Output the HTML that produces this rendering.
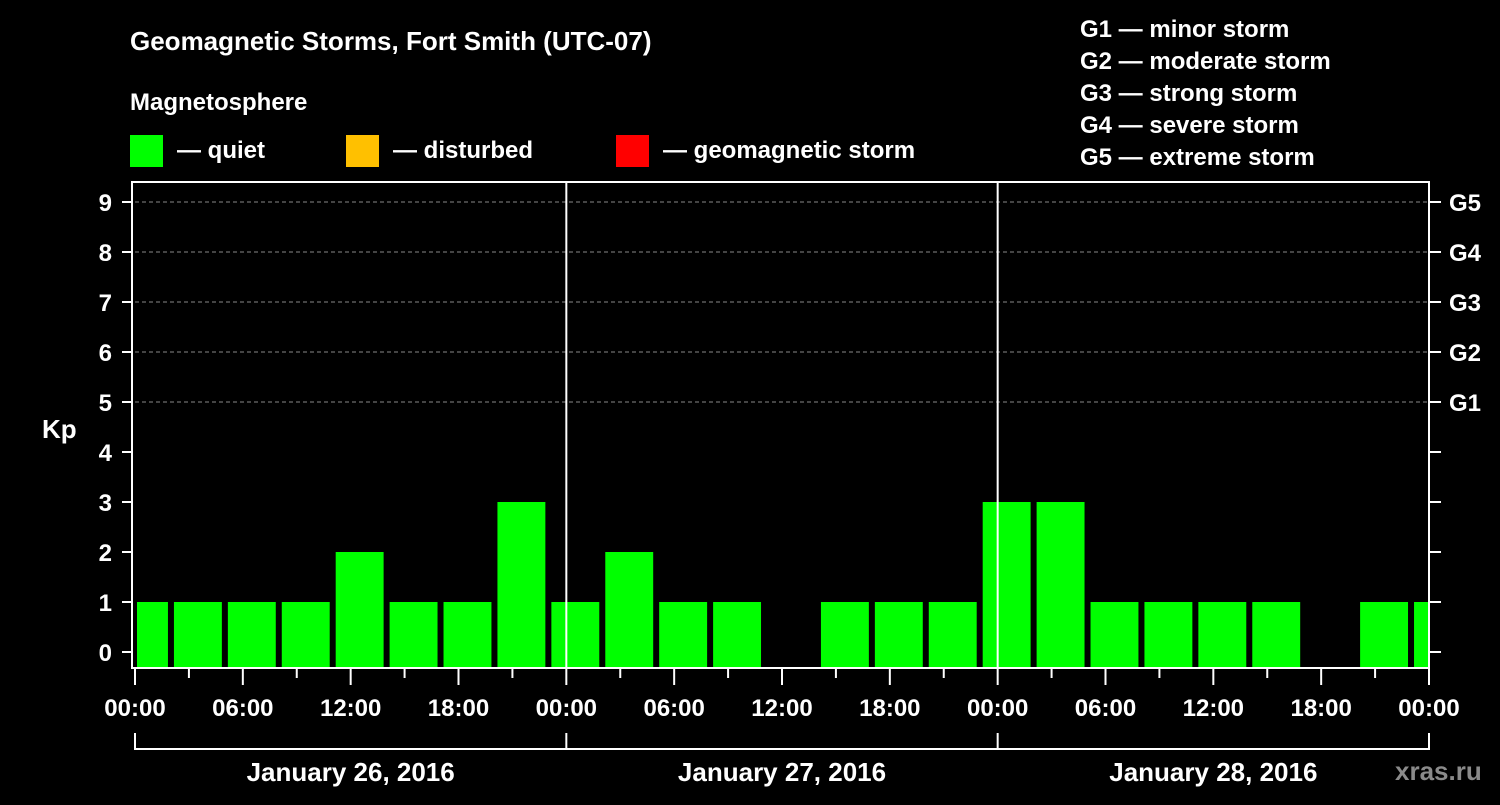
<!DOCTYPE html>
<html><head><meta charset="utf-8"><style>
body{margin:0;background:#000;width:1500px;height:800px;overflow:hidden}
svg text{font-family:"Liberation Sans",sans-serif;font-weight:bold;fill:#fff}
</style></head><body>
<svg id="c" width="1500" height="800">
<text x="130" y="50" font-size="26">Geomagnetic Storms, Fort Smith (UTC-07)</text>
<text x="130" y="110" font-size="24">Magnetosphere</text>
<rect x="130" y="135" width="33" height="32" fill="#00ff00"/>
<text x="177" y="158" font-size="24">— quiet</text>
<rect x="346" y="135" width="33" height="32" fill="#ffc000"/>
<text x="393" y="158" font-size="24">— disturbed</text>
<rect x="616" y="135" width="33" height="32" fill="#ff0000"/>
<text x="663" y="158" font-size="24">— geomagnetic storm</text>
<g font-size="24">
<text x="1080" y="37">G1 — minor storm</text>
<text x="1080" y="69">G2 — moderate storm</text>
<text x="1080" y="101">G3 — strong storm</text>
<text x="1080" y="133">G4 — severe storm</text>
<text x="1080" y="165">G5 — extreme storm</text>
</g>
<text x="42" y="438" font-size="26">Kp</text>
<text x="1395" y="780" font-size="26" fill="#888" style="fill:#8a8a8a">xras.ru</text>
<g id="marks"></g>
</svg>
<script>
const dayLabels=["January 26, 2016","January 27, 2016","January 28, 2016"];
const binStartHours=[-1,2,5,8,11,14,17,20,23,26,29,32,35,38,41,44,47,50,53,56,59,62,65,68,71];
const kpValues=[1,1,1,1,2,1,1,3,1,2,1,1,0,1,1,1,3,3,1,1,1,1,0,1,1];
const gLabels=["G1","G2","G3","G4","G5"];
const yTicks=[0,1,2,3,4,5,6,7,8,9];
const xTickLabels=["00:00","06:00","12:00","18:00","00:00","06:00","12:00","18:00","00:00","06:00","12:00","18:00","00:00"];
const X0=135,X1=1429,TOP=182,BOT=668;
const x=h=>X0+h*(X1-X0)/72;
const y=v=>652-v*50;
const NS="http://www.w3.org/2000/svg";
const g=document.getElementById('marks');
function mk(t,a){const e=document.createElementNS(NS,t);for(const k in a)e.setAttribute(k,a[k]);g.appendChild(e);return e;}
// grid
yTicks.forEach(v=>{
 if(v>=5){const l=mk('line',{x1:X0,x2:X1,y1:y(v),y2:y(v),stroke:'#888','stroke-dasharray':'4,3'});
 
 }
 const t=mk('line',{x1:122,x2:132,y1:y(v),y2:y(v),stroke:'#fff','stroke-width':2});
 
 
 const r=mk('line',{x1:X1,x2:1441,y1:y(v),y2:y(v),stroke:'#fff','stroke-width':2});
 
 
 const tx=mk('text',{x:112,y:y(v)+9,'font-size':24,'text-anchor':'end'});tx.textContent=v;
 
 
});
gLabels.forEach((s,i)=>{const tx=mk('text',{x:1449,y:y(5+i)+9,'font-size':24});tx.textContent=s;
 
 });
// bars
binStartHours.forEach((h,i)=>{const v=kpValues[i];if(v<=0)return;
 let a=Math.max(x(h)+3,X0+2),b=Math.min(x(h+3)-3,X1);
 const r=mk('rect',{x:a,y:y(v)-16+16-0,width:b-a,height:BOT-y(v)+0,fill:'#00ff00'});
 
 });
// day separators
[24,48].forEach(h=>{const l=mk('line',{x1:x(h),x2:x(h),y1:TOP,y2:BOT,stroke:'#fff','stroke-width':2});
 
 });
// frame
const f=mk('rect',{x:132,y:TOP,width:X1-132,height:BOT-TOP,fill:'none',stroke:'#fff','stroke-width':2});


// x ticks
for(let h=0;h<=72;h+=3){const l=mk('line',{x1:x(h),x2:x(h),y1:BOT,y2:h%6==0?685:678,stroke:'#fff','stroke-width':2});
 
 }
xTickLabels.forEach((s,i)=>{const tx=mk('text',{x:x(i*6),y:716,'font-size':24,'text-anchor':'middle'});tx.textContent=s;
 
 });
// date bracket
const bl=mk('line',{x1:x(0),x2:x(72),y1:749,y2:749,stroke:'#fff','stroke-width':2});


[0,24,48,72].forEach(h=>{const l=mk('line',{x1:x(h),x2:x(h),y1:733,y2:750,stroke:'#fff','stroke-width':2});
 
 });
dayLabels.forEach((s,i)=>{const tx=mk('text',{x:x(i*24+12),y:781,'font-size':26,'text-anchor':'middle'});tx.textContent=s;
 
 });
</script>
</body></html>
